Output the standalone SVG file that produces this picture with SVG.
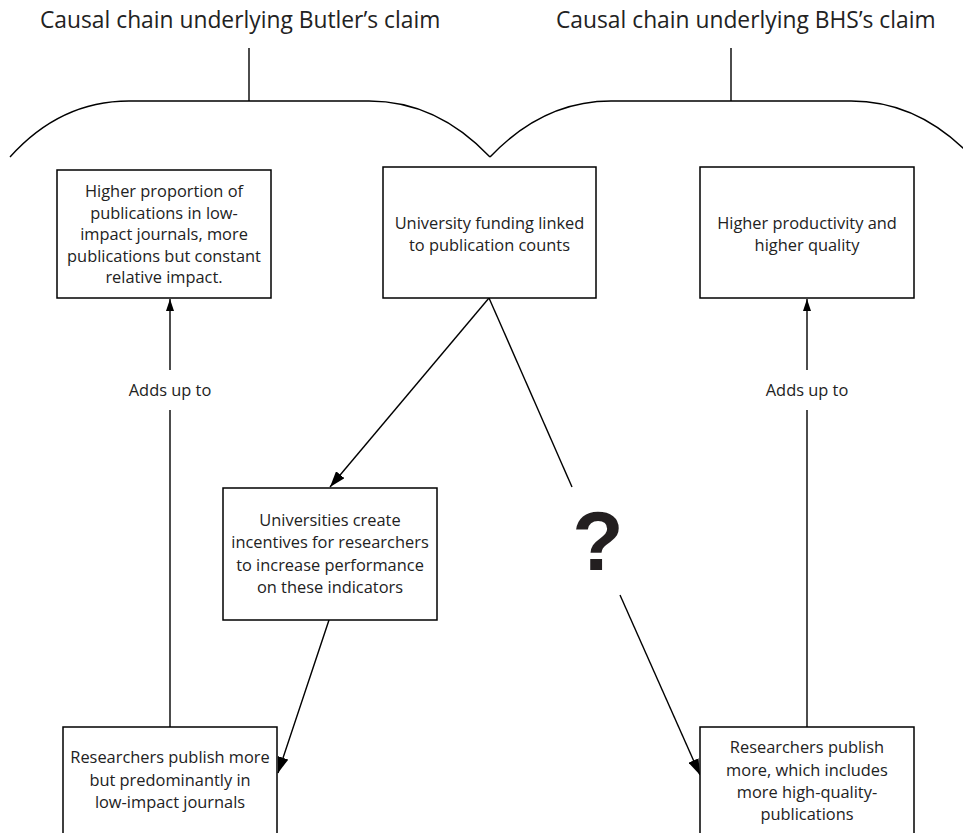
<svg xmlns="http://www.w3.org/2000/svg" width="963" height="833" viewBox="0 0 963 833">
<defs>
<style>
.box{fill:#fff;stroke:#000;stroke-width:1.5}
.t{font-family:"Open Sans","Liberation Sans",sans-serif;font-size:16.4px;fill:#222;text-anchor:middle}
.title{font-family:"Open Sans","Liberation Sans",sans-serif;font-size:22.8px;fill:#222}
.ln{fill:none;stroke:#000;stroke-width:1.4}
</style>
<marker id="big" viewBox="0 0 16 11" refX="16" refY="5.5" markerWidth="16" markerHeight="11" orient="auto" markerUnits="userSpaceOnUse"><path d="M0,0 L16,5.5 L0,11 z" fill="#000"/></marker>
<marker id="small" viewBox="0 0 12 8" refX="12" refY="4" markerWidth="12" markerHeight="8" orient="auto" markerUnits="userSpaceOnUse"><path d="M0,0 L12,4 L0,8 z" fill="#000"/></marker>
</defs>
<rect width="963" height="833" fill="#fff"/>
<g id="titles">
<text class="title" x="40" y="28">Causal chain underlying Butler’s claim</text>
<text class="title" x="556" y="28">Causal chain underlying BHS’s claim</text>
</g>
<g id="braces" class="ln">
<path d="M249,48 L249,101"/>
<path d="M731,48 L731,101"/>
<path d="M10,157 C45,118 85,101 129,101 L369,101 C413,101 453,118 490,157"/>
<path d="M490,157 C527,118 567,101 611,101 L851,101 C895,101 935,118 972,157"/>
</g>
<g id="connectors" class="ln">
<path d="M170,727 L170,410"/>
<path d="M170,370 L170,299" marker-end="url(#small)"/>
<path d="M807,727 L807,410"/>
<path d="M807,370 L807,299" marker-end="url(#small)"/>
<path d="M489,298 L330,487" marker-end="url(#big)"/>
<path d="M329,620 L278,773" marker-end="url(#big)"/>
<path d="M489,298 L572,487"/>
<path d="M620,595 L700,775" marker-end="url(#big)"/>
<text class="t" x="170" y="396" stroke="none">Adds up to</text>
<text class="t" x="807" y="396" stroke="none">Adds up to</text>
<text x="598" y="570" stroke="none" style="font-family:'Liberation Sans',sans-serif;font-weight:bold;font-size:84px;fill:#231f20;text-anchor:middle">?</text>
</g>
<g id="nodeA">
<rect class="box" x="57" y="170" width="214" height="128"/>
<text class="t" x="164" y="197">Higher proportion of</text>
<text class="t" x="164" y="218.5">publications in low-</text>
<text class="t" x="164" y="240">impact journals, more</text>
<text class="t" x="164" y="261.5">publications but constant</text>
<text class="t" x="164" y="283">relative impact.</text>
</g>
<g id="nodeB">
<rect class="box" x="383" y="167" width="213" height="131"/>
<text class="t" x="489.5" y="229">University funding linked</text>
<text class="t" x="489.5" y="250.5">to publication counts</text>
</g>
<g id="nodeC">
<rect class="box" x="700" y="167" width="214" height="131"/>
<text class="t" x="807" y="229">Higher productivity and</text>
<text class="t" x="807" y="250.5">higher quality</text>
</g>
<g id="nodeD">
<rect class="box" x="223" y="488" width="214" height="132"/>
<text class="t" x="330" y="526">Universities create</text>
<text class="t" x="330" y="548">incentives for researchers</text>
<text class="t" x="330" y="570.5">to increase performance</text>
<text class="t" x="330" y="593">on these indicators</text>
</g>
<g id="nodeE">
<rect class="box" x="63" y="727" width="214" height="130"/>
<text class="t" x="170" y="763">Researchers publish more</text>
<text class="t" x="170" y="785.5">but predominantly in</text>
<text class="t" x="170" y="808">low-impact journals</text>
</g>
<g id="nodeF">
<rect class="box" x="700" y="727" width="214" height="130"/>
<text class="t" x="807" y="753">Researchers publish</text>
<text class="t" x="807" y="775.5">more, which includes</text>
<text class="t" x="807" y="798">more high-quality-</text>
<text class="t" x="807" y="820">publications</text>
</g>
</svg>
